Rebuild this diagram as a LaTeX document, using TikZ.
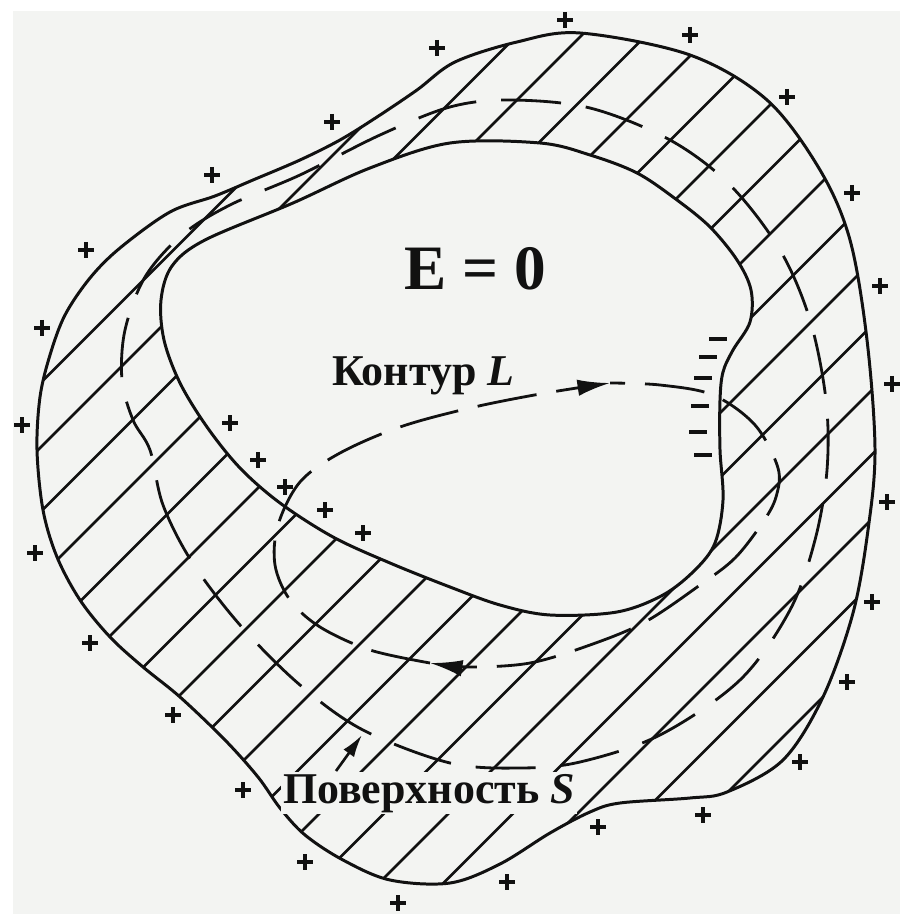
\documentclass[tikz,border=0pt]{standalone}
\usepackage{fontspec}
\setmainfont{Liberation Serif}
\usetikzlibrary{arrows.meta}
\definecolor{ink}{HTML}{111111}
\definecolor{paper}{HTML}{F3F4F2}
\tikzset{
  wall/.style={draw=ink,line width=1.7pt},
  hatch/.style={draw=ink,line width=1.45pt},
  surface/.style={draw=ink,line width=1.6pt,dash pattern=on 12mm off 5mm},
  contour/.style={draw=ink,line width=1.6pt,dash pattern=on 12mm off 4mm},
  flowtip/.style={-{Latex[length=6.5mm,width=3.3mm]}},
  pointer/.style={draw=ink,line width=1.5pt,-{Latex[length=4.5mm,width=2.6mm]}},
  charge/.style={draw=ink,line width=1.9pt},
  caption/.style={font=\fontsize{25}{25}\selectfont\bfseries,text=ink,inner sep=1pt}
}
\newcommand\outerwall{plot[smooth cycle,tension=0.55] coordinates {
  (580,33) (690,55) (767,100) (820,170) (850,240) (867,340) (875,450)
  (868,530) (853,613) (823,697) (783,760) (727,792) (690,798) (620,803)
  (590,812) (550,833) (500,864) (450,883) (390,880) (343,860) (305,835)
  (280,808) (258,777) (225,740) (180,697) (143,667) (110,637) (80,600)
  (57,557) (43,510) (37,450) (40,397) (50,355) (65,315) (90,278)
  (120,248) (170,212) (215,196) (253,180) (300,160) (340,140) (377,117)
  (417,90) (455,62) (517,42)}}
\newcommand\innerwall{plot[smooth cycle,tension=0.55] coordinates {
  (450,143) (540,143) (590,155) (637,173) (677,200) (710,227) (737,260)
  (751,290) (750,322) (733,350) (723,372) (720,400) (720,450) (723,500)
  (715,543) (695,570) (663,595) (617,612) (550,615) (500,605) (450,587)
  (390,563) (333,537) (280,503) (240,468) (207,427) (180,383) (164,340)
  (161,300) (172,266) (205,240) (293,203) (370,168)}}

\begin{document}
\begin{tikzpicture}[x=0.2mm,y=-0.2mm]
  \useasboundingbox (0,0) rectangle (900,914);
  \fill[white] (0,0) rectangle (900,914);
  \fill[paper] (13,11) rectangle (900,914);

  \begin{scope}[even odd rule]
    \clip \outerwall \innerwall;
    \foreach \k in {-5,...,16}
      \draw[hatch] ({617+64.5*\k+100},-100) -- ({617+64.5*\k-1000},1000);
  \end{scope}

  \draw[wall] \outerwall;
  \draw[wall] \innerwall;

  % surface S
  \draw[surface] plot[smooth cycle,tension=0.55] coordinates {
    (150,450) (163,505) (192,562) (240,625) (300,685) (363,730) (450,763)
    (520,768) (580,762) (660,735) (740,680) (790,610) (815,540) (827,470)
    (826,400) (810,320) (780,250) (730,185) (670,140) (590,108) (510,100)
    (450,107) (380,135) (300,175) (230,205) (182,235) (145,277) (125,330)
    (122,380) (133,420)};

  % contour L
  \draw[contour,flowtip] plot[smooth,tension=0.55] coordinates {
    (430,663) (370,650) (320,627) (290,600) (275,565) (278,525) (300,482)
    (340,453) (400,427) (470,408) (540,394) (610,383)};
  \draw[contour,flowtip,dash phase=9mm] plot[smooth,tension=0.55] coordinates {
    (610,383) (660,385) (713,395) (755,425) (778,468) (776,497) (763,522)
    (735,558) (700,585) (645,622) (590,645) (530,663) (470,667) (430,663)};

  % charges
  \foreach \x/\y in {565/20,690/35,787/97,852/193,880/286,892/384,887/502,
      872/602,847/682,800/762,703/815,598/827,507/882,398/903,305/862,
      243/790,173/715,90/643,35/553,22/425,42/328,86/250,212/175,332/122,
      437/48,230/423,258/460,285/487,325/510,363/533}
    \draw[charge] (\x-8,\y) -- (\x+8,\y) (\x,\y-8) -- (\x,\y+8);
  \foreach \x/\y in {718/339,708/357,703/378,700/406,698/432,703/455}
    \draw[charge] (\x-9,\y) -- (\x+9,\y);

  \node[caption,font=\fontsize{36}{36}\selectfont\bfseries,anchor=base] (field) at (475,290) {E = 0};
  \node[caption,anchor=base west] (contourlabel) at (330,386) {Контур \textit{L}};
  \node[caption,anchor=base west,fill=paper] (surfacelabel) at (281,803) {Поверхность \textit{S}};

  \coordinate (stail) at (336,771);
  \coordinate (shead) at (362,735);
  \draw[pointer] (stail) -- (shead);
\end{tikzpicture}
\end{document}
